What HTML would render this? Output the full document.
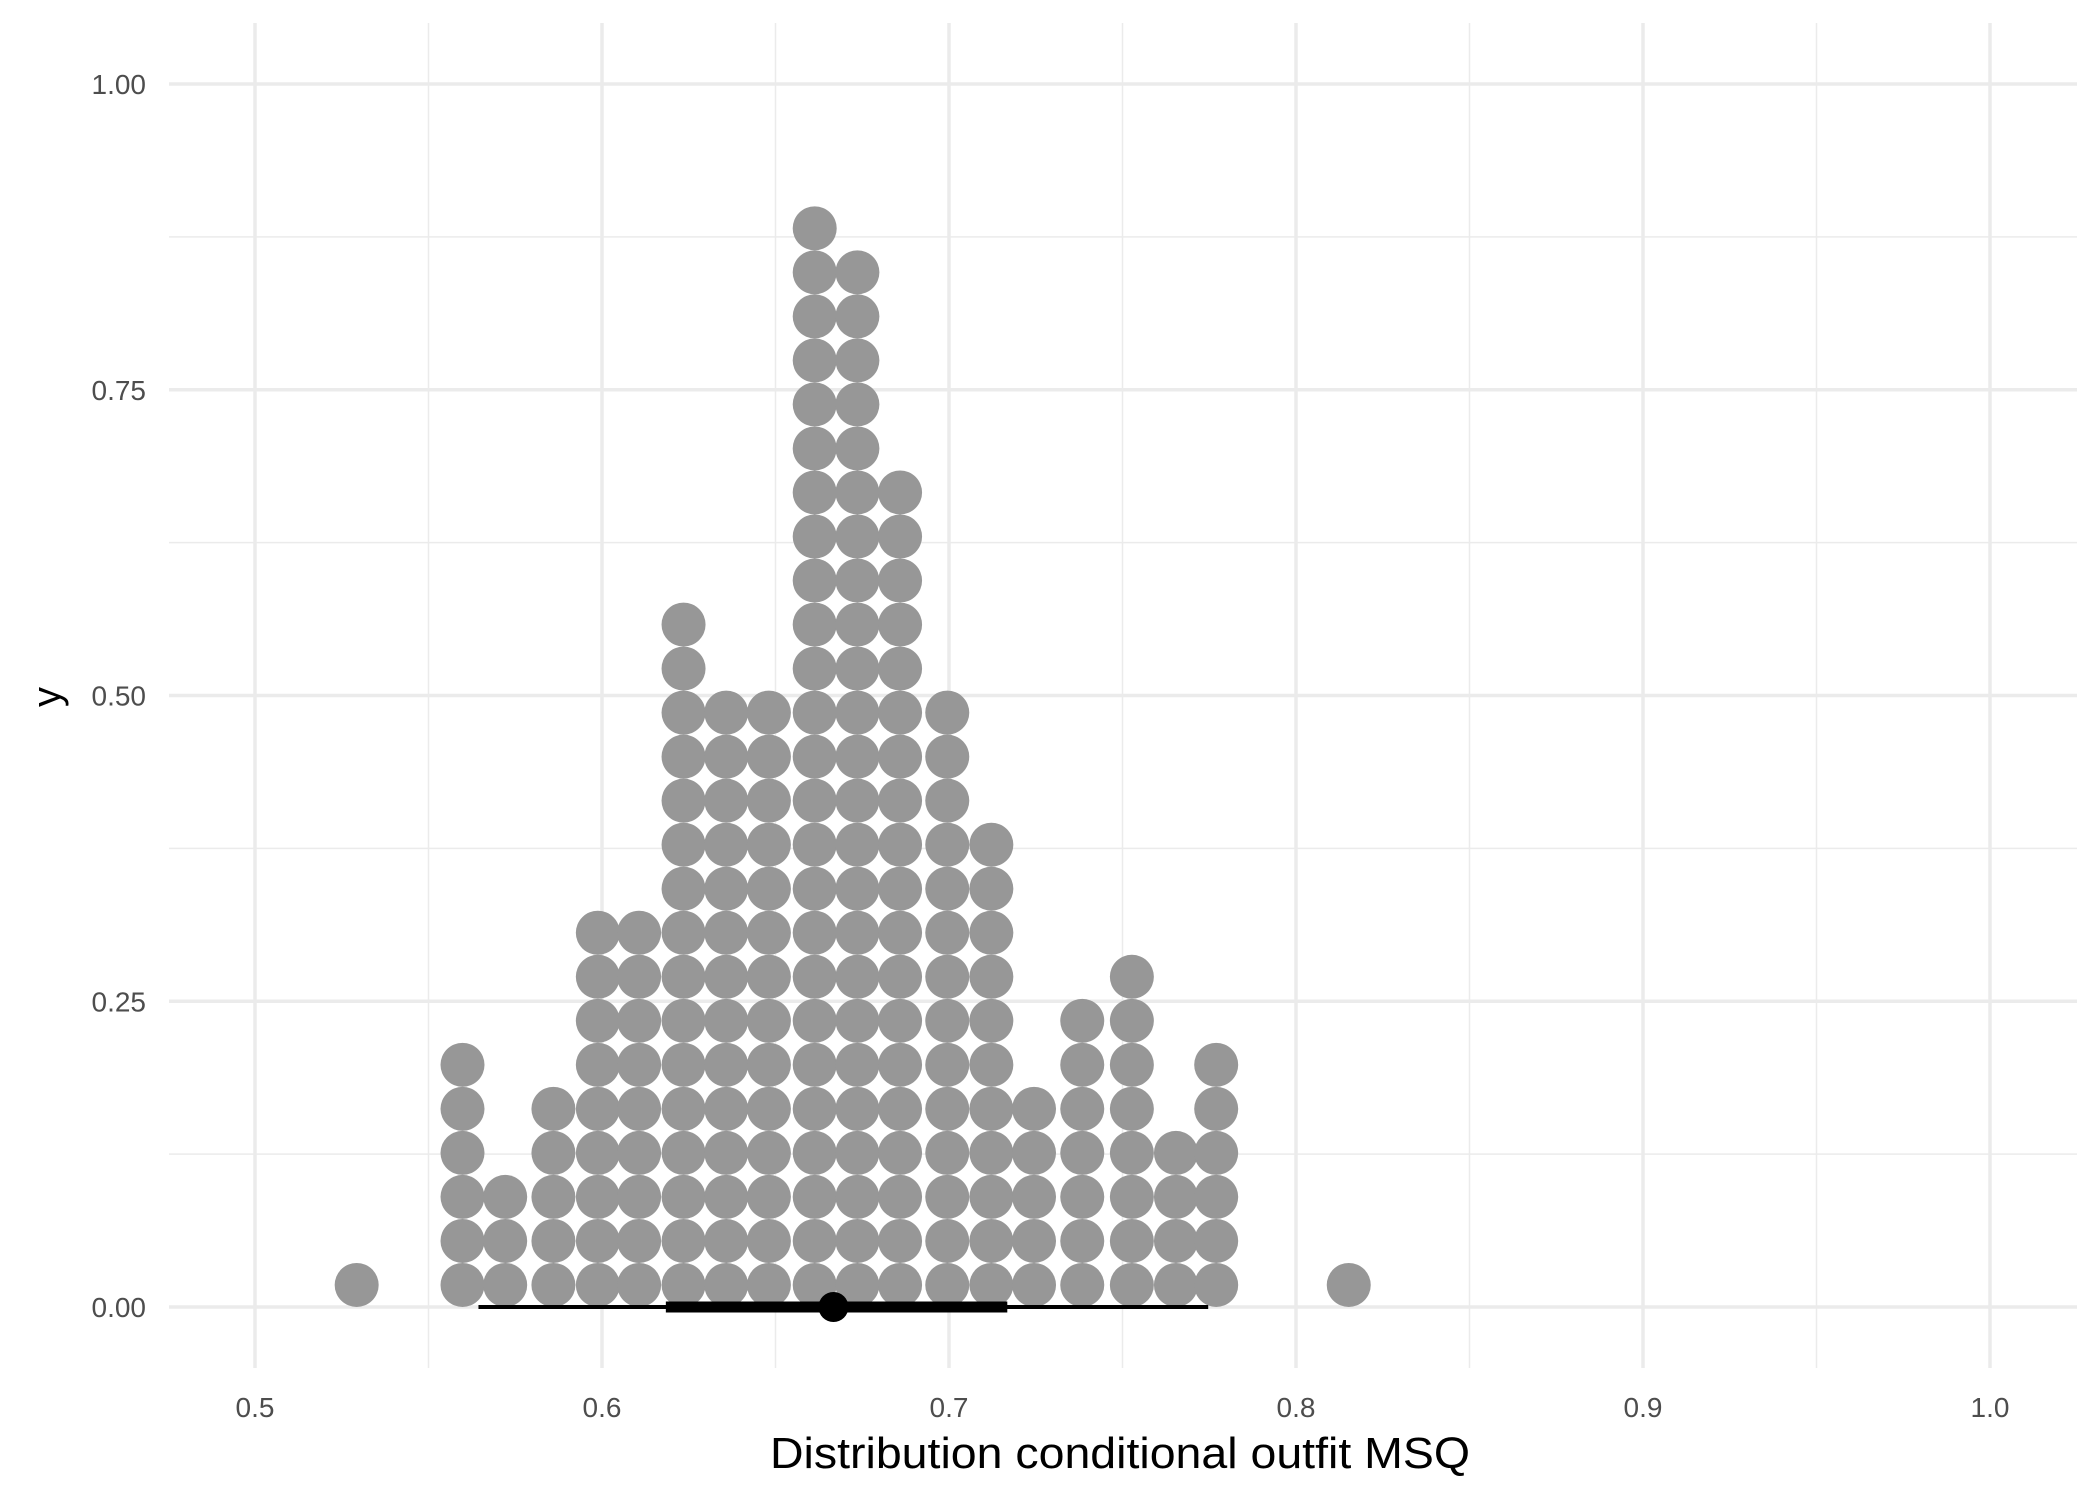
<!DOCTYPE html>
<html><head><meta charset="utf-8"><style>body{margin:0;background:#fff}svg{display:block}text{font-family:"Liberation Sans",sans-serif}</style></head>
<body>
<svg id="chart" width="2100" height="1500" viewBox="0 0 2100 1500" xmlns="http://www.w3.org/2000/svg">
<g id="grid"></g>
<g id="dots"></g>
<g id="interval"></g>
<g id="axes"></g>
<text x="1120" y="1468" font-size="44" text-anchor="middle" textLength="700" lengthAdjust="spacingAndGlyphs" fill="#000">Distribution conditional outfit MSQ</text>
<text x="0" y="0" font-size="40" text-anchor="middle" fill="#000" transform="translate(60,697) rotate(-90)">y</text>
</svg>
<script>
const binX = [0.5293,0.5598,0.5721,0.5860,0.5988,0.6107,0.6235,0.6358,0.6481,0.6613,0.6736,0.6859,0.6995,0.7122,0.7245,0.7384,0.7527,0.7654,0.7770,0.8152];
const binCounts = [1,6,3,5,9,9,16,14,14,25,24,19,14,11,5,7,8,4,6,1];
const intervalThin = [0.5644,0.7747];
const intervalThick = [0.6184,0.7168];
const pointEstimate = [0.6667];
const xTicks = [0.5,0.6,0.7,0.8,0.9,1.0];
const xTickLabels = ["0.5","0.6","0.7","0.8","0.9","1.0"];
const yTicks = [0,0.25,0.5,0.75,1];
const yTickLabels = ["0.00","0.25","0.50","0.75","1.00"];

const X0=169,X1=2077,Y0=23,Y1=1368;
const xs = v => 255 + (v-0.5)*3470;
const ys = v => 1307 - v*1223;
const NS="http://www.w3.org/2000/svg";
function mk(tag, parent, attrs){const e=document.createElementNS(NS,tag);for(const k in attrs)e.setAttribute(k,attrs[k]);parent.appendChild(e);return e;}
const grid=document.getElementById('grid'),dots=document.getElementById('dots'),iv=document.getElementById('interval'),axes=document.getElementById('axes');
for(let i=0;i<xTicks.length-1;i++){const v=(xTicks[i]+xTicks[i+1])/2;const l=mk('line',grid,{x1:xs(v),x2:xs(v),y1:Y0,y2:Y1,stroke:'#ebebeb','stroke-width':1.5});
}
for(let i=0;i<yTicks.length-1;i++){const v=(yTicks[i]+yTicks[i+1])/2;const l=mk('line',grid,{x1:X0,x2:X1,y1:ys(v),y2:ys(v),stroke:'#ebebeb','stroke-width':1.5});
}
xTicks.forEach((v,i)=>{const l=mk('line',grid,{x1:xs(v),x2:xs(v),y1:Y0,y2:Y1,stroke:'#ebebeb','stroke-width':3.5});

const t=mk('text',axes,{x:xs(v),y:1417,'font-size':28,'text-anchor':'middle',fill:'#4d4d4d'});t.textContent=xTickLabels[i];
});
yTicks.forEach((v,i)=>{const l=mk('line',grid,{x1:X0,x2:X1,y1:ys(v),y2:ys(v),stroke:'#ebebeb','stroke-width':3.5});

const t=mk('text',axes,{x:146,y:ys(v)+10,'font-size':28,'text-anchor':'end',fill:'#4d4d4d'});t.textContent=yTickLabels[i];
});
const step=0.036,first=0.018,r=22;
binX.forEach((x,i)=>{for(let k=0;k<binCounts[i];k++){const c=mk('circle',dots,{cx:xs(x),cy:ys(first+k*step),r:r,fill:'#979797'});
}});
const a=mk('line',iv,{x1:xs(intervalThin[0]),x2:xs(intervalThin[1]),y1:ys(0),y2:ys(0),stroke:'#000','stroke-width':4});

const b=mk('line',iv,{x1:xs(intervalThick[0]),x2:xs(intervalThick[1]),y1:ys(0),y2:ys(0),stroke:'#000','stroke-width':11});

const p=mk('circle',iv,{cx:xs(pointEstimate[0]),cy:ys(0),r:15,fill:'#000'});

</script>
</body></html>
